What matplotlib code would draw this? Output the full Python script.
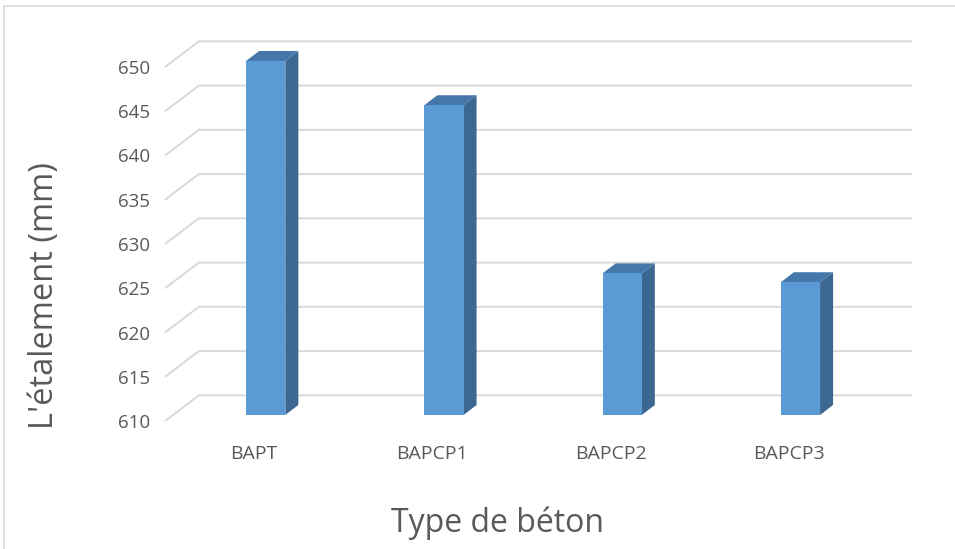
import matplotlib
matplotlib.use("Agg")
import matplotlib.pyplot as plt
from matplotlib.patches import Polygon, Rectangle

categories = ["BAPT", "BAPCP1", "BAPCP2", "BAPCP3"]
etalement = [650, 645, 626, 625]
y_ticks = [610, 615, 620, 625, 630, 635, 640, 645, 650]

FRONT, TOP, SIDE = "#5B9BD5", "#4577AB", "#3B6791"
GRID, TXT = "#D9D9D9", "#595959"
plt.rcParams["font.family"] = ["Open Sans", "DejaVu Sans"]

W_PX, H_PX = 955, 549
fig = plt.figure(figsize=(W_PX / 100, H_PX / 100), dpi=100)
# axes = front plane of the 3-D box
ax = fig.add_axes([165 / W_PX, 128 / H_PX, 713 / W_PX, 354 / H_PX])
ax.set_xlim(-0.5, 3.5)
ax.set_ylim(610, 650)
for s in ax.spines.values():
    s.set_visible(False)

# oblique depth offsets (category units, value units)
PX, PY = 0.19, 2.9        # back wall
BX, BY = 0.065, 0.68      # front face of the columns
DX, DY = 0.073, 1.13      # column depth
BW = 0.22                 # column width

for v in y_ticks:
    ax.plot([-0.5, -0.5 + PX, 3.5 + PX], [v, v + PY, v + PY],
            color=GRID, lw=1.4, clip_on=False, zorder=1,
            solid_capstyle="butt")

for i, v in enumerate(etalement):
    x0 = i + BX - BW / 2
    x1 = x0 + BW
    y0 = 610 + BY
    y1 = v + BY
    ax.add_patch(Polygon([(x1, y0), (x1 + DX, y0 + DY), (x1 + DX, y1 + DY), (x1, y1)],
                         closed=True, fc=SIDE, ec="none", clip_on=False, zorder=3))
    ax.add_patch(Polygon([(x0, y1), (x0 + DX, y1 + DY), (x1 + DX, y1 + DY), (x1, y1)],
                         closed=True, fc=TOP, ec="none", clip_on=False, zorder=3))
    ax.add_patch(Rectangle((x0, y0), BW, y1 - y0, fc=FRONT, ec="none",
                           clip_on=False, zorder=4))

ax.set_yticks(y_ticks)
ax.set_yticklabels([str(t) for t in y_ticks])
ax.set_xticks(range(len(categories)))
ax.set_xticklabels(categories)
ax.tick_params(axis="y", length=0, pad=11, labelsize=13.5, labelcolor=TXT)
ax.tick_params(axis="x", length=0, pad=17, labelsize=14, labelcolor=TXT)

fig.text(45 / W_PX, 1 - 296 / H_PX, "L'étalement (mm)", rotation=90,
         ha="center", va="center", fontsize=23.5, color=TXT)
fig.text(497 / W_PX, 1 - 523 / H_PX, "Type de béton",
         ha="center", va="center", fontsize=23, color=TXT)

# chart area border (runs off the right and bottom edges)
fig.add_artist(Rectangle((4 / W_PX, -0.1), 1.2, 1.1 - 6 / H_PX,
                         transform=fig.transFigure, fill=False,
                         ec=GRID, lw=1.2))

fig.savefig("out.png", dpi=100)
